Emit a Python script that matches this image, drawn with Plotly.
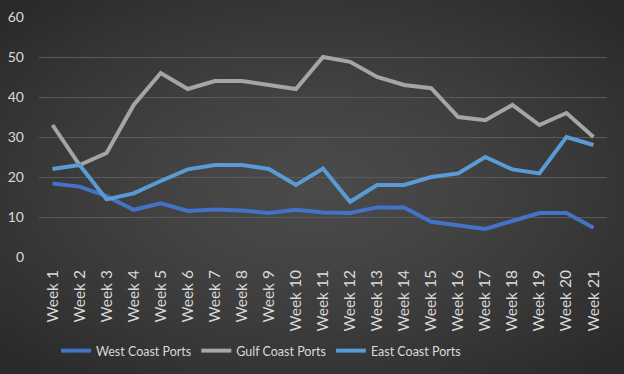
import plotly.graph_objects as go
import zlib, struct, base64, math

weeks = [f"Week {i}" for i in range(1, 22)]
west = [18.4, 17.6, 15.2, 11.8, 13.4, 11.5, 11.9, 11.6, 11.0, 11.8, 11.1, 11.0, 12.4, 12.4, 8.8, 8.0, 7.0, 9.0, 11.0, 11.0, 7.3]
gulf = [33, 23, 26, 38, 46, 42, 44, 44, 43, 42, 50, 48.8, 45, 43, 42.2, 35, 34.2, 38, 33, 36, 30]
east = [22, 23, 14.4, 15.9, 19, 21.9, 23, 23, 22, 18, 22.1, 13.8, 18, 18, 20, 20.9, 25, 21.9, 20.9, 30, 28]

W_PX, H_PX = 624, 374

def gradient_png(w, h):
    rows = []
    for j in range(h):
        row = bytearray([0])
        for i in range(w):
            dx = (i / (w - 1) - 0.5) * 2
            dy = (j / (h - 1) - 0.5) * 2
            d = min(1.0, math.sqrt(dx * dx + dy * dy) / 1.35)
            v = int(round(74 - (74 - 42) * d ** 1.4))
            row += bytes([v, v, v])
        rows.append(bytes(row))
    raw = b"".join(rows)
    def chunk(t, data):
        c = struct.pack(">I", len(data)) + t + data
        return c + struct.pack(">I", zlib.crc32(t + data) & 0xffffffff)
    png = b"\x89PNG\r\n\x1a\n"
    png += chunk(b"IHDR", struct.pack(">IIBBBBB", w, h, 8, 2, 0, 0, 0))
    png += chunk(b"IDAT", zlib.compress(raw, 9))
    png += chunk(b"IEND", b"")
    return "data:image/png;base64," + base64.b64encode(png).decode()

bg = gradient_png(156, 94)

fig = go.Figure()
fig.add_trace(go.Scatter(x=weeks, y=west, name="West Coast Ports", mode="lines",
                         line=dict(color="#4472C4", width=4)))
fig.add_trace(go.Scatter(x=weeks, y=gulf, name="Gulf Coast Ports", mode="lines",
                         line=dict(color="#A5A5A5", width=4)))
fig.add_trace(go.Scatter(x=weeks, y=east, name="East Coast Ports", mode="lines",
                         line=dict(color="#5B9BD5", width=4)))

L, R, T, B = 39, 17, 17, 117
pw = W_PX - L - R
ph = H_PX - T - B

fig.update_layout(
    width=W_PX, height=H_PX,
    margin=dict(l=L, r=R, t=T, b=B, pad=0, autoexpand=False),
    paper_bgcolor="#3c3c3c",
    plot_bgcolor="rgba(0,0,0,0)",
    font=dict(family="Lato, 'Open Sans', sans-serif", color="#D9D9D9", size=13),
    showlegend=True,
    legend=dict(orientation="h", x=0.5 - 62 / pw, xanchor="center", y=-(351 - 257) / ph, yanchor="middle",
                font=dict(size=12.5, color="#D9D9D9"), itemwidth=30, bgcolor="rgba(0,0,0,0)",
                tracegroupgap=0),
    xaxis=dict(showgrid=False, zeroline=False, showline=False, tickangle=-90, automargin=False,
               tickfont=dict(size=15.5), ticks="", ticklen=0, range=[-0.5, 20.5],
               ticklabelstandoff=9),
    yaxis=dict(range=[0, 60], dtick=10, showgrid=True, gridcolor="#5a5a5a", gridwidth=1,
               automargin=False, zeroline=False, showline=False, ticks="", tickfont=dict(size=14),
               ticklabelstandoff=14),
    images=[dict(source=bg, xref="paper", yref="paper",
                 x=-L / pw, y=1 + T / ph, sizex=W_PX / pw, sizey=H_PX / ph,
                 xanchor="left", yanchor="top", sizing="stretch", layer="below")],
)

fig.write_html("out.html", config={"displayModeBar": False},
               post_script="document.body.style.margin='0';document.body.style.overflow='hidden';")
